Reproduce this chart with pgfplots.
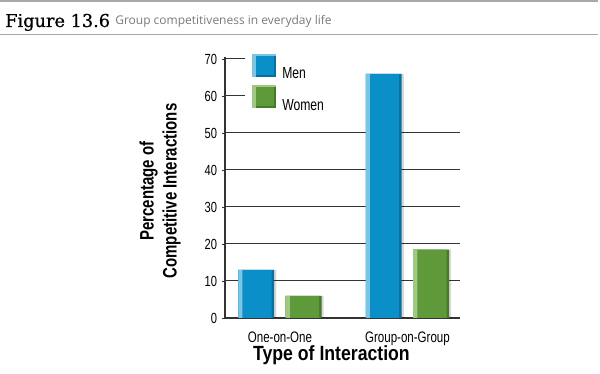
\documentclass[border=0pt]{standalone}
\usepackage{pgfplots}
\pgfplotsset{compat=1.18}
\usepackage{fontspec}
\setmainfont{Liberation Sans}
\newfontfamily\condfont{Liberation Sans}[FakeStretch=0.76]
\newfontfamily\xlabfont{Liberation Sans Bold}[FakeStretch=0.86]
\newfontfamily\ylabfont{Liberation Sans Bold}[FakeStretch=0.77]
\newfontfamily\titlefont{DejaVu Serif}[FakeBold=0.6]
\newfontfamily\subfont{Open Sans}

\definecolor{menmain}{HTML}{0A8FC8}
\definecolor{menlight}{HTML}{7CC6E4}
\definecolor{mendark}{HTML}{07709F}
\definecolor{wommain}{HTML}{5E9A3A}
\definecolor{womlight}{HTML}{A0C784}
\definecolor{womdark}{HTML}{477A28}
\definecolor{gridc}{HTML}{333333}
\definecolor{rulec}{HTML}{A8A8A8}
\definecolor{subc}{HTML}{7A7A7A}

\pgfplotstableread{
x men women
0 13 6
1 66 18.5
}\datatable

\begin{document}
\begin{tikzpicture}
\path[use as bounding box] (0,0) rectangle (450pt,280.5pt);
% header rules and title
\draw[rulec, line width=1pt] (0,279.75pt) -- (448.5pt,279.75pt);
\draw[rulec, line width=1pt] (0,254.5pt) -- (448.5pt,254.5pt);
\node[anchor=base west, inner sep=0pt] at (3.75pt,260.25pt) {\titlefont\fontsize{13.3pt}{15pt}\selectfont Figure 13.6};
\node[anchor=base west, inner sep=0pt, text=subc] at (86.25pt,262.2pt) {\subfont\fontsize{9pt}{11pt}\selectfont Group competitiveness in everyday life};

\begin{axis}[
  at={(168.75pt,42pt)}, anchor=south west,
  scale only axis, width=176.25pt, height=195.64pt,
  xmin=-0.431, xmax=1.412, ymin=0, ymax=70.5,
  enlargelimits=false,
  axis lines*=left,
  axis line style={gridc, line width=0.8pt},
  xtick={0,1}, xticklabels={One-on-One,Group-on-Group},
  xtick style={draw=none},
  xticklabel style={font=\condfont\fontsize{11.4pt}{13pt}\selectfont, anchor=base, yshift=-16.5pt},
  ytick={0,10,...,70},
  tick align=outside,
  ytick style={gridc, line width=0.7pt},
  major tick length=2.25pt,
  /pgf/number format/assume math mode=true,
  yticklabel style={font=\condfont\fontsize{11pt}{12pt}\selectfont, anchor=east, inner sep=0pt, xshift=-3.5pt},
  extra y ticks={10,20,30,40,50},
  extra y tick labels={},
  extra y tick style={grid=major, major tick length=0pt},
  grid style={gridc, line width=0.75pt},
  xlabel={Type of Interaction},
  xlabel style={font=\xlabfont\fontsize{15.4pt}{17pt}\selectfont, at={(axis description cs:0.453,0)}, anchor=base, yshift=-32.25pt, inner sep=0pt},
  ylabel={Percentage of\\Competitive Interactions},
  ylabel style={font=\ylabfont\fontsize{14.6pt}{17.25pt}\selectfont, at={(axis description cs:-0.2766,0.487)}, anchor=center, align=center, inner sep=0pt},
  ybar,
  legend style={at={(axis description cs:0.115,1.015)}, anchor=north west, draw=none, fill=none,
    inner sep=0pt, row sep=3.75pt, column sep=4.5pt,
    nodes={inner sep=0pt, font=\condfont\fontsize{12pt}{14pt}\selectfont}},
  legend cell align=left,
]
% shadows
\addplot[forget plot, draw=none, fill=black, fill opacity=0.15, bar width=0.282, bar shift=-0.170] table[x=x, y=men] {\datatable};
\addplot[forget plot, draw=none, fill=black, fill opacity=0.15, bar width=0.282, bar shift=0.202] table[x=x, y=women] {\datatable};
% Men bars: dark body, main face, light left edge
\addplot[forget plot, draw=none, fill=mendark, bar width=0.282, bar shift=-0.186] table[x=x, y=men] {\datatable};
\addplot[draw=none, fill=menmain, bar width=0.262, bar shift=-0.196,
  legend image code/.code={
    \fill[mendark] (0pt,-2pt) rectangle (18pt,15.25pt);
    \fill[menmain] (0pt,-0.5pt) rectangle (16.5pt,15.25pt);
    \fill[menlight] (0pt,-2pt) rectangle (2.5pt,15.25pt);
    \fill[menlight] (0pt,13.75pt) rectangle (18pt,15.25pt);}
  ] table[x=x, y=men] {\datatable};
\addlegendentry{Men}
\addplot[forget plot, draw=none, fill=menlight, bar width=0.032, bar shift=-0.311] table[x=x, y=men] {\datatable};
% Women bars
\addplot[forget plot, draw=none, fill=womdark, bar width=0.282, bar shift=0.186] table[x=x, y=women] {\datatable};
\addplot[draw=none, fill=wommain, bar width=0.262, bar shift=0.176,
  legend image code/.code={
    \fill[womdark] (0pt,-2pt) rectangle (18pt,15.25pt);
    \fill[wommain] (0pt,-0.5pt) rectangle (16.5pt,15.25pt);
    \fill[womlight] (0pt,-2pt) rectangle (2.5pt,15.25pt);
    \fill[womlight] (0pt,13.75pt) rectangle (18pt,15.25pt);}
  ] table[x=x, y=women] {\datatable};
\addlegendentry{Women}
\addplot[forget plot, draw=none, fill=womlight, bar width=0.032, bar shift=0.061] table[x=x, y=women] {\datatable};
\draw[gridc, line width=0.75pt] (axis cs:-0.431,60) -- (axis cs:-0.274,60);
\draw[gridc, line width=0.75pt] (axis cs:-0.431,70) -- (axis cs:-0.274,70);
\end{axis}
\end{tikzpicture}
\end{document}
